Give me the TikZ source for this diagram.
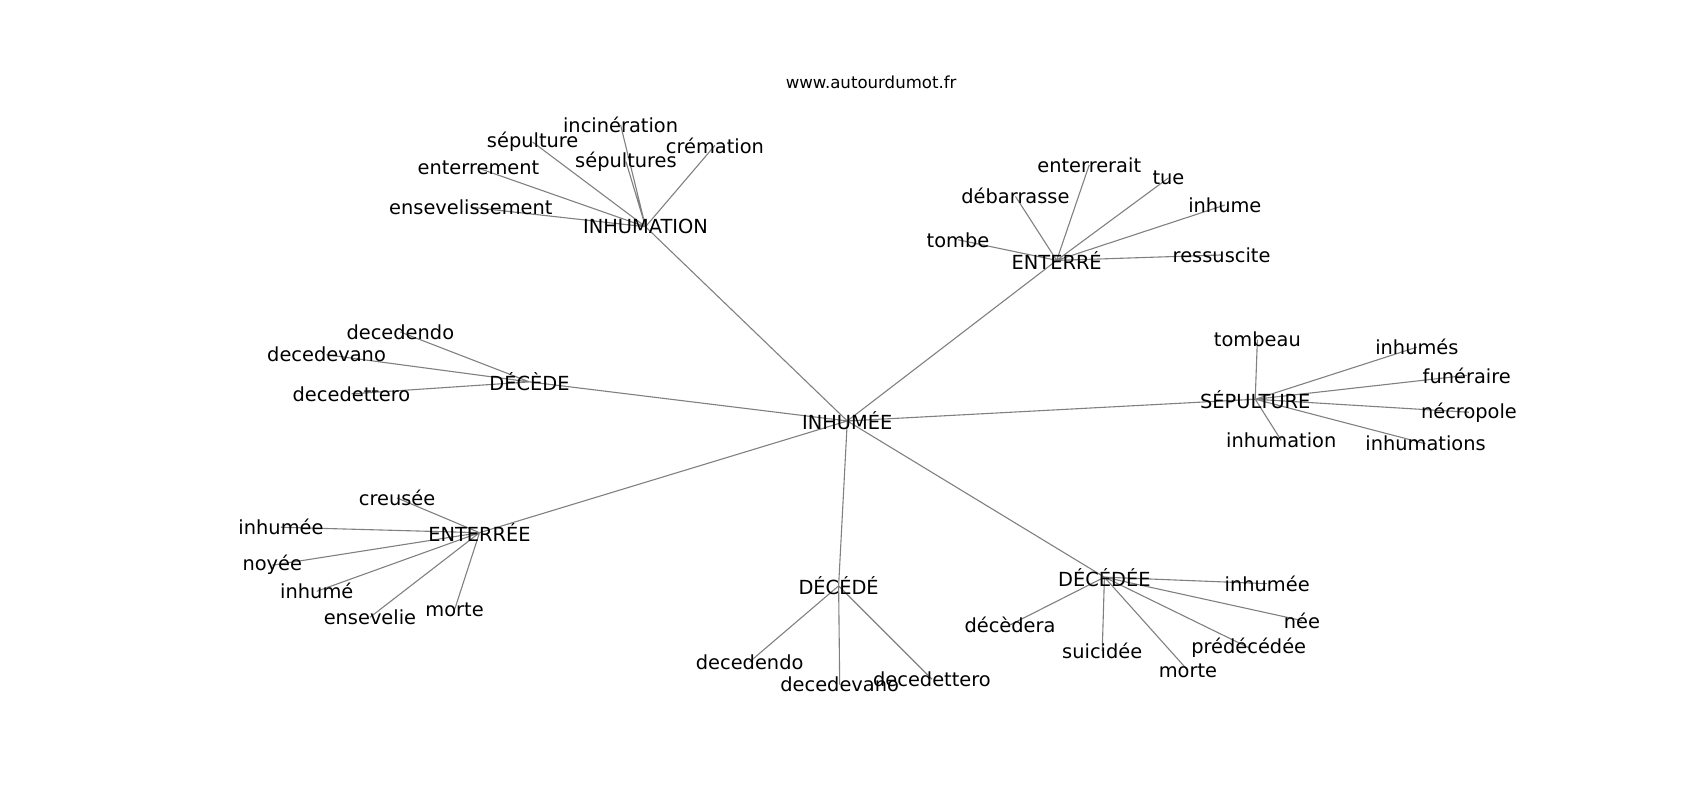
\documentclass[tikz,border=0pt]{standalone}
\usepackage{fontspec}
\setmainfont{DejaVu Sans}
\usetikzlibrary{backgrounds}

\begin{document}
\begin{tikzpicture}[x=0.5425pt,y=-0.5425pt,
		word/.style={font=\fontsize{9.7}{11}\selectfont, inner sep=0pt},
		link/.style={gray, line width=0.55pt}]
		\useasboundingbox (0,0) rectangle (1567,737);
		\node[font=\fontsize{8.3}{10}\selectfont] (site) at (803,76) {www.autourdumot.fr};

		% centre et mots voisins
		\node[word] (inhumee) at (781,388) {INHUMÉE};
		\node[word] (inhumation) at (595,209) {INHUMATION};
		\node[word] (enterre) at (974,240) {ENTERRÉ};
		\node[word] (decede) at (488,352) {DÉCÈDE};
		\node[word] (sepulture) at (1157,368) {SÉPULTURE};
		\node[word] (enterree) at (442,491) {ENTERRÉE};
		\node[word] (decedeM) at (773,540) {DÉCÉDÉ};
		\node[word] (decedee) at (1018,532) {DÉCÉDÉE};

		% INHUMATION
		\node[word] (incineration) at (572,115) {incinération};
		\node[word] (sepultureA) at (491,131) {sépulture};
		\node[word] (cremation) at (659,134) {crémation};
		\node[word] (sepultures) at (577,149) {sépultures};
		\node[word] (enterrement) at (441,155) {enterrement};
		\node[word] (ensevelissement) at (434,191) {ensevelissement};

		% ENTERRÉ
		\node[word] (enterrerait) at (1004,152) {enterrerait};
		\node[word] (tue) at (1077,164) {tue};
		\node[word] (debarrasse) at (936,181) {débarrasse};
		\node[word] (inhume) at (1129,189) {inhume};
		\node[word] (tombe) at (883,221) {tombe};
		\node[word] (ressuscite) at (1126,235) {ressuscite};

		% DÉCÈDE
		\node[word] (decedendoA) at (369,306) {decedendo};
		\node[word] (decedevanoA) at (301,327) {decedevano};
		\node[word] (decedetteroA) at (324,363) {decedettero};

		% SÉPULTURE
		\node[word] (tombeau) at (1159,313) {tombeau};
		\node[word] (inhumes) at (1306,320) {inhumés};
		\node[word] (funeraire) at (1352,346) {funéraire};
		\node[word] (necropole) at (1354,380) {nécropole};
		\node[word] (inhumationB) at (1181,406) {inhumation};
		\node[word] (inhumations) at (1314,409) {inhumations};

		% ENTERRÉE
		\node[word] (creusee) at (366,459) {creusée};
		\node[word] (inhumeeA) at (259,486) {inhumée};
		\node[word] (noyee) at (251,521) {noyée};
		\node[word] (inhumeA) at (292,545) {inhumé};
		\node[word] (ensevelie) at (341,569) {ensevelie};
		\node[word] (morteA) at (419,562) {morte};

		% DÉCÉDÉ
		\node[word] (decedendoB) at (691,610) {decedendo};
		\node[word] (decedevanoB) at (774,631) {decedevano};
		\node[word] (decedetteroB) at (859,626) {decedettero};

		% DÉCÉDÉE
		\node[word] (inhumeeB) at (1168,538) {inhumée};
		\node[word] (nee) at (1200,572) {née};
		\node[word] (decedera) at (931,576) {décèdera};
		\node[word] (suicidee) at (1016,600) {suicidée};
		\node[word] (predecedee) at (1151,597) {prédécédée};
		\node[word] (morteB) at (1095,618) {morte};

		\begin{scope}[on background layer]
		\draw[link] (inhumee.center)--(inhumation.center) (inhumee.center)--(enterre.center)
			(inhumee.center)--(decede.center) (inhumee.center)--(sepulture.center)
			(inhumee.center)--(enterree.center) (inhumee.center)--(decedeM.center)
			(inhumee.center)--(decedee.center);
		\draw[link] (inhumation.center)--(incineration.center) (inhumation.center)--(sepultureA.center)
			(inhumation.center)--(cremation.center) (inhumation.center)--(sepultures.center)
			(inhumation.center)--(enterrement.center) (inhumation.center)--(ensevelissement.center);
		\draw[link] (enterre.center)--(enterrerait.center) (enterre.center)--(tue.center)
			(enterre.center)--(debarrasse.center) (enterre.center)--(inhume.center)
			(enterre.center)--(tombe.center) (enterre.center)--(ressuscite.center);
		\draw[link] (decede.center)--(decedendoA.center) (decede.center)--(decedevanoA.center)
			(decede.center)--(decedetteroA.center);
		\draw[link] (sepulture.center)--(tombeau.center) (sepulture.center)--(inhumes.center)
			(sepulture.center)--(funeraire.center) (sepulture.center)--(necropole.center)
			(sepulture.center)--(inhumationB.center) (sepulture.center)--(inhumations.center);
		\draw[link] (enterree.center)--(creusee.center) (enterree.center)--(inhumeeA.center)
			(enterree.center)--(noyee.center) (enterree.center)--(inhumeA.center)
			(enterree.center)--(ensevelie.center) (enterree.center)--(morteA.center);
		\draw[link] (decedeM.center)--(decedendoB.center) (decedeM.center)--(decedevanoB.center)
			(decedeM.center)--(decedetteroB.center);
		\draw[link] (decedee.center)--(inhumeeB.center) (decedee.center)--(nee.center)
			(decedee.center)--(decedera.center) (decedee.center)--(suicidee.center)
			(decedee.center)--(predecedee.center) (decedee.center)--(morteB.center);
		\end{scope}
	\end{tikzpicture}
\end{document}
